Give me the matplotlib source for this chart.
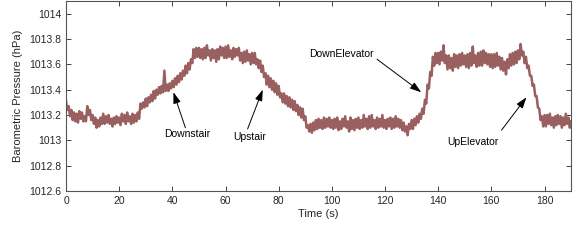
#!/usr/bin/env python3
import numpy as np
import matplotlib
matplotlib.use("Agg")
import matplotlib.pyplot as plt

# barometer readings, one every 0.5 s, stored as hPa above 1013
base_hpa = 1013.0
sample_step = 0.5
pressure_offset = [
    0.31, 0.24, 0.27, 0.19, 0.24, 0.16, 0.22, 0.15, 0.21, 0.14, 0.23, 0.17, 0.22, 0.15, 0.19, 0.15, 0.27, 0.20, 0.24, 0.16,
    0.20, 0.13, 0.18, 0.10, 0.16, 0.11, 0.18, 0.13, 0.21, 0.13, 0.19, 0.14, 0.20, 0.13, 0.17, 0.11, 0.18, 0.13, 0.19, 0.14,
    0.18, 0.12, 0.21, 0.15, 0.20, 0.13, 0.22, 0.15, 0.19, 0.13, 0.21, 0.14, 0.20, 0.15, 0.22, 0.17, 0.29, 0.25, 0.30, 0.26,
    0.33, 0.27, 0.34, 0.30, 0.36, 0.31, 0.39, 0.33, 0.40, 0.36, 0.42, 0.37, 0.43, 0.38, 0.55, 0.39, 0.44, 0.39, 0.45, 0.41,
    0.47, 0.42, 0.49, 0.44, 0.51, 0.46, 0.53, 0.48, 0.55, 0.51, 0.59, 0.53, 0.61, 0.56, 0.64, 0.61, 0.72, 0.65, 0.73, 0.66,
    0.73, 0.65, 0.72, 0.64, 0.73, 0.65, 0.75, 0.67, 0.71, 0.63, 0.72, 0.65, 0.71, 0.62, 0.72, 0.64, 0.74, 0.67, 0.73, 0.65,
    0.74, 0.65, 0.75, 0.66, 0.71, 0.64, 0.73, 0.66, 0.72, 0.67, 0.73, 0.63, 0.69, 0.61, 0.70, 0.62, 0.71, 0.63, 0.68, 0.60,
    0.69, 0.61, 0.69, 0.60, 0.64, 0.57, 0.63, 0.54, 0.59, 0.50, 0.53, 0.44, 0.51, 0.42, 0.49, 0.40, 0.47, 0.38, 0.45, 0.36,
    0.43, 0.34, 0.37, 0.30, 0.37, 0.29, 0.35, 0.27, 0.34, 0.26, 0.32, 0.24, 0.31, 0.23, 0.28, 0.20, 0.26, 0.18, 0.25, 0.16,
    0.19, 0.10, 0.12, 0.07, 0.13, 0.06, 0.14, 0.08, 0.16, 0.09, 0.17, 0.10, 0.16, 0.09, 0.18, 0.10, 0.17, 0.11, 0.18, 0.10,
    0.16, 0.09, 0.17, 0.10, 0.18, 0.08, 0.15, 0.09, 0.17, 0.11, 0.19, 0.10, 0.15, 0.07, 0.18, 0.09, 0.16, 0.08, 0.17, 0.10,
    0.18, 0.09, 0.16, 0.10, 0.20, 0.11, 0.17, 0.09, 0.19, 0.10, 0.20, 0.11, 0.16, 0.09, 0.18, 0.10, 0.17, 0.11, 0.20, 0.10,
    0.16, 0.09, 0.17, 0.11, 0.18, 0.09, 0.17, 0.10, 0.19, 0.11, 0.17, 0.10, 0.16, 0.08, 0.14, 0.07, 0.11, 0.04, 0.13, 0.09,
    0.16, 0.09, 0.17, 0.12, 0.19, 0.14, 0.21, 0.17, 0.25, 0.21, 0.32, 0.29, 0.44, 0.41, 0.54, 0.51, 0.66, 0.59, 0.69, 0.61,
    0.69, 0.60, 0.70, 0.63, 0.75, 0.61, 0.67, 0.56, 0.67, 0.57, 0.65, 0.55, 0.68, 0.58, 0.67, 0.57, 0.68, 0.59, 0.69, 0.60,
    0.67, 0.58, 0.68, 0.57, 0.69, 0.59, 0.74, 0.61, 0.67, 0.58, 0.69, 0.59, 0.70, 0.59, 0.71, 0.61, 0.69, 0.60, 0.68, 0.58,
    0.68, 0.57, 0.68, 0.58, 0.69, 0.59, 0.66, 0.56, 0.65, 0.55, 0.62, 0.52, 0.64, 0.57, 0.68, 0.59, 0.69, 0.60, 0.70, 0.61,
    0.71, 0.64, 0.76, 0.67, 0.70, 0.61, 0.66, 0.57, 0.59, 0.51, 0.51, 0.43, 0.44, 0.35, 0.35, 0.26, 0.25, 0.16, 0.19, 0.11,
    0.20, 0.11, 0.20, 0.13, 0.21, 0.12, 0.18, 0.10, 0.19, 0.12, 0.20, 0.13, 0.19, 0.10, 0.18, 0.12, 0.21, 0.13, 0.18, 0.10, 0.15,
]

# annotations: label, text position (s, hPa), arrow tip and tail (s, hPa)
labels = ["Downstair", "Upstair", "DownElevator", "UpElevator"]
label_pos = [(45.7, 1013.05), (69.0, 1013.03), (103.4, 1013.685), (153.2, 1012.99)]
arrow_tip = [(40.4, 1013.38), (74.0, 1013.40), (133.6, 1013.38), (173.2, 1013.34)]
arrow_tail = [(44.9, 1013.10), (68.3, 1013.09), (117.0, 1013.64), (163.8, 1013.08)]

x_ticks = [0, 20, 40, 60, 80, 100, 120, 140, 160, 180]
y_ticks = [1012.6, 1012.8, 1013, 1013.2, 1013.4, 1013.6, 1013.8, 1014]


def main():
    plt.rcParams['font.family'] = ['Liberation Sans', 'DejaVu Sans']
    plt.rcParams['font.size'] = 7.5

    t = np.arange(len(pressure_offset)) * sample_step
    p = base_hpa + np.array(pressure_offset)

    fig = plt.figure(figsize=(5.74, 2.52), dpi=100)
    ax = fig.add_axes([0.115, 0.242, 0.88, 0.754])
    ax.plot(t, p, color='#9a6060', lw=1.8, solid_joinstyle='round')

    ax.set_xlim(0, 190)
    ax.set_ylim(1012.6, 1014.1)
    ax.set_xticks(x_ticks)
    ax.set_yticks(y_ticks)
    ax.set_yticklabels(["%g" % v for v in y_ticks])
    ax.tick_params(direction='in', length=3.5, width=0.6, top=True, right=True,
                   colors='#262626', labelsize=7.5)
    for s in ax.spines.values():
        s.set_color('#555555')
        s.set_linewidth(0.8)
    ax.set_xlabel("Time (s)", fontsize=8, color='#262626', labelpad=2)
    ax.set_ylabel("Barometric Pressure (hPa)", fontsize=8, color='#262626', labelpad=4)

    for lab, pos, tip, tail in zip(labels, label_pos, arrow_tip, arrow_tail):
        ax.text(pos[0], pos[1], lab, ha='center', va='center', fontsize=7.5, color='k')
        ax.annotate("", xy=tip, xytext=tail,
                    arrowprops=dict(arrowstyle='-|>,head_length=0.9,head_width=0.3',
                                    color='k', lw=0.7, shrinkA=0, shrinkB=0))

    fig.savefig("out.png", dpi=100)


if __name__ == "__main__":
    main()
